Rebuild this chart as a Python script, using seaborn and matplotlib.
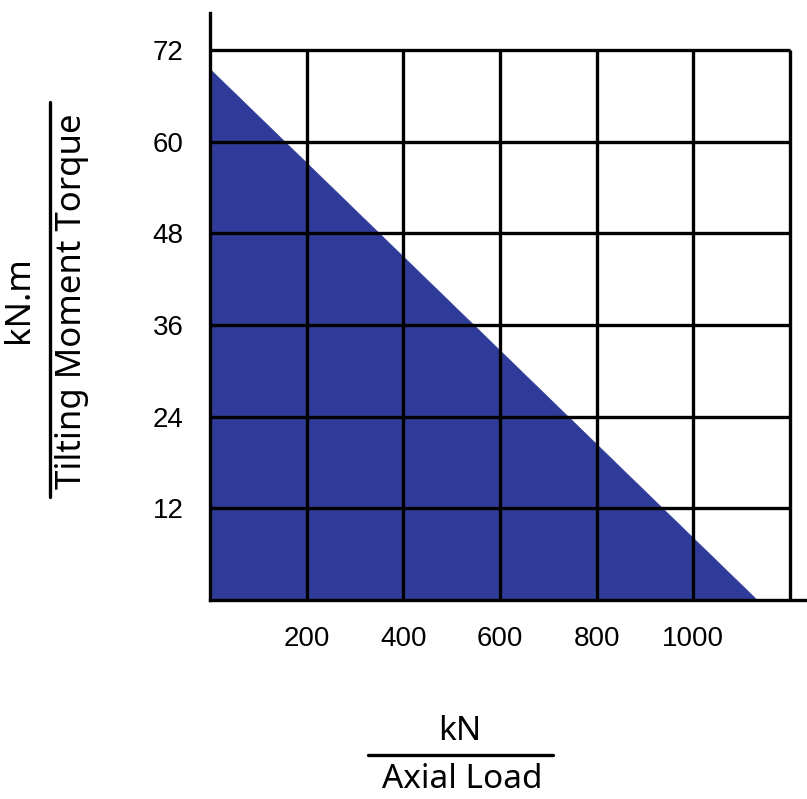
import matplotlib
matplotlib.use("Agg")
import matplotlib.pyplot as plt
from matplotlib.lines import Line2D
import seaborn as sns
import pandas as pd

# ---- data ----
axial_load = [0, 1132]          # kN
tilting_moment = [69.5, 0]      # kN.m
x_ticks = [200, 400, 600, 800, 1000, 1200]
x_tick_labels = ["200", "400", "600", "800", "1000", ""]
y_ticks = [12, 24, 36, 48, 60, 72]
y_tick_labels = ["12", "24", "36", "48", "60", "72"]

FILL = "#2f3b98"
W, H = 807, 799

sns.set_style("white")
plt.rcParams["font.family"] = ["Liberation Sans", "DejaVu Sans"]
plt.rcParams["text.color"] = "black"

fig = plt.figure(figsize=(W / 100, H / 100), dpi=100)
ax = fig.add_axes([210 / W, 1 - 600 / H, (807 - 210) / W, (600 - 13) / H])

df = pd.DataFrame({"load": axial_load, "moment": tilting_moment})
sns.lineplot(data=df, x="load", y="moment", ax=ax, color=FILL, lw=0.5)
ax.fill_between(df["load"], df["moment"], 0, color=FILL, lw=0, zorder=1)

# grid
ax.vlines(x_ticks, 0, max(y_ticks), colors="black", lw=2.4, zorder=3)
ax.hlines(y_ticks, 0, max(x_ticks), colors="black", lw=2.4, zorder=3)

ax.set_xlim(0, 1200 + (807 - 790) / 96.6 * 200)
ax.set_ylim(0, 72 + (50 - 13) / 91.6 * 12)

for s in ["top", "right"]:
    ax.spines[s].set_visible(False)
for s in ["left", "bottom"]:
    ax.spines[s].set_color("black")
    ax.spines[s].set_linewidth(2.4)
    ax.spines[s].set_zorder(4)

ax.set_xticks(x_ticks)
ax.set_xticklabels(x_tick_labels)
ax.set_yticks(y_ticks)
ax.set_yticklabels(y_tick_labels)
ax.tick_params(axis="x", direction="out", length=11, width=2.4, color="black",
               labelsize=20, pad=8, labelcolor="black")
ax.tick_params(axis="y", direction="out", length=5, width=2.4, color="black",
               labelsize=20, pad=14, labelcolor="black")
ax.set_xlabel("")
ax.set_ylabel("")

# axis titles with fraction lines
tf = ["Noto Sans", "DejaVu Sans"]
fig.text(460 / W, 1 - 732 / H, "kN", ha="center", va="center", fontsize=24,
         family=tf, color="black")
fig.text(462 / W, 1 - 780 / H, "Axial Load", ha="center", va="center", fontsize=24,
         family=tf, color="black")
fig.add_artist(Line2D([368 / W, 553 / W], [1 - 755 / H, 1 - 755 / H],
                      transform=fig.transFigure, color="black", lw=2.4))

fig.text(19 / W, 1 - 300 / H, "kN.m", ha="center", va="center", rotation=90,
         fontsize=25, family=tf, color="black")
fig.text(72 / W, 1 - 301 / H, "Tilting Moment Torque", ha="center", va="center",
         rotation=90, fontsize=25, family=tf, color="black")
fig.add_artist(Line2D([50 / W, 50 / W], [1 - 102 / H, 1 - 497 / H],
                      transform=fig.transFigure, color="black", lw=2.4))

fig.savefig("out.png", dpi=100, facecolor="white")
